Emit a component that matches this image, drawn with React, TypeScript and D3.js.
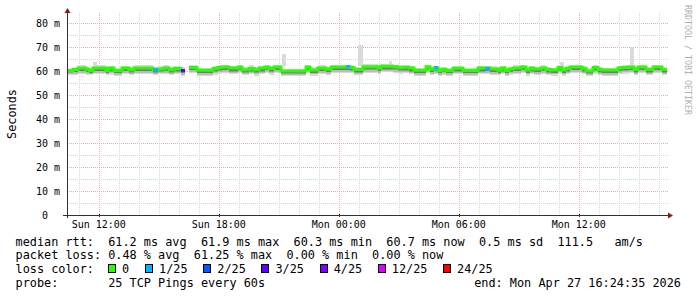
import React from "react";
import * as d3 from "d3";

// ---- data ----
const START = Date.UTC(2026, 3, 26, 10, 24, 35);
const END = Date.UTC(2026, 3, 27, 16, 24, 35);

// median runs: start minute (from START), median rtt (ms), lost pings (of 25)
const runStartMin = [
  0, 18, 33, 57, 66, 78, 117, 126, 141, 165, 186, 201, 258, 273, 291, 306, 321, 342, 354, 366,
  390, 438, 453, 465, 486, 513, 525, 546, 561, 576, 594, 606, 621, 642, 717, 729, 753, 777, 792, 837,
  849, 861, 888, 933, 942, 978, 993, 1008, 1026, 1041, 1077, 1089, 1101, 1113, 1125, 1137, 1158, 1188, 1233, 1254,
  1269, 1293, 1302, 1314, 1326, 1338, 1362, 1377, 1389, 1401, 1422, 1437, 1452, 1473, 1485, 1497, 1509, 1545, 1557, 1578,
  1593, 1605, 1653, 1665, 1686, 1701, 1713, 1737, 1758, 1785,
];
const runMedian: (number | null)[] = [
  60.2, 60.6, 61.3, 60.7, 60.2, 61.3, 60.2, 61.2, 60.2, 61.3, 60.5, 61.3, 60.5, 60.8, 61.2, 60.5, 61.0, 60.3, null, 61.5,
  60.3, 61.0, 61.5, 61.7, 61.2, 61.7, 60.5, 61.0, 60.5, 61.2, 61.7, 61.0, 61.7, 60.0, 61.7, 60.4, 61.2, 60.7, 61.7, 61.7,
  61.5, 60.6, 61.8, 61.3, 62.0, 61.8, 61.4, 61.6, 61.2, 60.3, 61.8, 60.7, 61.3, 60.2, 60.7, 60.2, 61.1, 60.2, 61.2, 61.2,
  60.8, 60.3, 61.2, 60.2, 60.8, 61.3, 61.7, 60.4, 61.2, 60.8, 61.2, 60.6, 60.4, 61.5, 60.4, 61.0, 61.7, 61.0, 60.0, 61.5,
  60.6, 60.4, 61.2, 61.5, 61.7, 60.6, 61.7, 60.6, 61.7, 60.6,
];
const runLoss = [
  0, 0, 0, 0, 0, 0, 0, 0, 0, 0, 0, 0, 1, 0, 0, 0, 0, 3, 0, 0,
  0, 0, 0, 0, 0, 0, 0, 0, 0, 0, 0, 0, 0, 0, 0, 0, 0, 0, 0, 1,
  0, 0, 0, 0, 0, 0, 0, 0, 0, 0, 0, 0, 1, 0, 0, 0, 0, 0, 0, 1,
  0, 0, 0, 0, 0, 0, 0, 0, 0, 0, 0, 0, 0, 0, 0, 0, 0, 0, 0, 0,
  0, 0, 0, 0, 0, 0, 0, 0, 0, 0,
];
const runSmokeLow: (number | null)[] = [
  58.4, 58.5, 58.8, 58.3, 58.2, 58.6, 58.3, 58.5, 58.1, 58.7, 58.4, 58.8, 58.3, 58.6, 58.7, 58.3, 58.6, 58.1, null, 59.2,
  58.0, 58.5, 58.9, 59.1, 58.6, 59.2, 58.2, 58.6, 58.1, 58.6, 59.1, 58.5, 59.0, 57.9, 59.2, 58.1, 58.7, 58.4, 59.1, 59.1,
  59.0, 58.3, 59.2, 58.8, 59.4, 59.2, 58.9, 59.0, 58.6, 58.1, 59.2, 58.4, 58.7, 58.1, 58.4, 58.0, 58.6, 58.1, 58.6, 58.7,
  58.4, 58.2, 58.6, 58.0, 58.5, 58.7, 59.1, 58.1, 58.6, 58.4, 58.7, 58.3, 58.1, 58.9, 58.1, 58.6, 59.1, 58.6, 57.9, 58.9,
  58.3, 58.0, 58.7, 58.9, 59.1, 58.3, 59.1, 58.3, 59.2, 58.3,
];
const runSmokeHigh: (number | null)[] = [
  61.0, 61.4, 62.3, 61.6, 61.2, 62.4, 61.5, 62.2, 61.3, 62.2, 61.6, 62.4, 61.8, 61.9, 62.3, 61.6, 62.0, 61.6, null, 62.4,
  61.2, 62.0, 62.4, 62.6, 62.2, 62.7, 61.5, 62.6, 61.5, 62.1, 62.6, 62.0, 62.5, 61.0, 62.6, 61.5, 62.3, 61.8, 62.7, 62.6,
  62.4, 61.7, 62.8, 62.2, 62.9, 62.7, 62.3, 62.5, 62.2, 61.3, 62.7, 61.6, 62.2, 61.2, 61.6, 61.3, 62.1, 61.3, 62.2, 62.1,
  61.9, 61.3, 62.2, 61.2, 61.8, 62.3, 62.6, 61.4, 62.2, 61.8, 62.3, 61.6, 61.4, 62.4, 61.5, 62.0, 62.6, 62.0, 61.1, 62.4,
  61.6, 61.4, 62.2, 62.5, 62.6, 61.7, 62.6, 61.6, 62.7, 61.6,
];
// single slow pings (smoke outliers)
const outlierStartMin = [78, 645, 873, 966, 1479, 1689];
const outlierEndMin = [90, 657, 888, 975, 1491, 1701];
const outlierMax = [63.7, 67.0, 70.8, 64.0, 63.7, 70.0];

const yTicks = [0, 10, 20, 30, 40, 50, 60, 70, 80];
const lossThresholds = [0, 1, 2, 3, 4, 12, 24];
const lossLabels = ["0", "1/25", "2/25", "3/25", "4/25", "12/25", "24/25"];
const lossColors = ["#26ff00", "#00b8ff", "#0059ff", "#5e00ff", "#7e00ff", "#dd00ff", "#ff0000"];

const legendLine1 = "median rtt:  61.2 ms avg  61.9 ms max  60.3 ms min  60.7 ms now  0.5 ms sd  111.5   am/s";
const legendLine2 = "packet loss: 0.48 % avg  61.25 % max  0.00 % min  0.00 % now";
const legendLine3 = "loss color:";
const legendLine4 = "probe:       25 TCP Pings every 60s";
const endText = "end: Mon Apr 27 16:24:35 2026";

// ---- layout ----
const W = 697;
const H = 297;
const X0 = 67;
const X1 = 667;
const Y0 = 215;
const Y1 = 15;
const MONO = "'DejaVu Sans Mono', monospace";
const FS = 11.85;
const CW = 7.05;

const nb = (s: string) => s.replace(/ /g, "\u00a0");

function lossColor(l: number) {
  let c = lossColors[0];
  lossThresholds.forEach((t, i) => {
    if (l >= t) c = lossColors[i];
  });
  return c;
}

export default function App() {
  const x = d3.scaleUtc().domain([START, END]).range([X0, X1]);
  const y = d3.scaleLinear().domain([0, 83.333]).range([Y0, Y1]);
  const tAt = (m: number) => START + m * 60000;

  const runs = runStartMin.map((s, i) => ({
    s,
    e: i < runStartMin.length - 1 ? runStartMin[i + 1] : 1800,
    med: runMedian[i],
    lo: runSmokeLow[i],
    hi: runSmokeHigh[i],
    loss: runLoss[i],
  }));

  const hours = d3.utcHour.range(new Date(START), new Date(END));
  const minorY = d3.range(5, 84, 5);

  const pts: [number, number | null][] = runs.map((r) => [r.s, r.med]);
  pts.push([1800, runs[runs.length - 1].med]);
  const medLine = d3
    .line<[number, number | null]>()
    .defined((d) => d[1] !== null)
    .x((d) => x(tAt(d[0])))
    .y((d) => y(d[1] as number))
    .curve(d3.curveStepAfter);

  const band = (key: string, r: any, a: number, b: number, fill: string) => {
    const xa = Math.round(x(tAt(r.s)));
    const xb = Math.round(x(tAt(r.e)));
    const ya = y(a);
    const yb = y(b);
    return (
      <rect key={key} x={xa} width={xb - xa} y={Math.min(ya, yb)} height={Math.abs(yb - ya)} fill={fill} />
    );
  };

  // legend boxes layout
  let lx = 108;
  const legendItems = lossLabels.map((lab, i) => {
    const item = { bx: lx, tx: lx + 14, lab, col: lossColors[i] };
    lx = lx + 14 + lab.length * CW + 16;
    return item;
  });

  const fmtX = d3.utcFormat("%a %H:%M");
  const majorHours = hours.filter((h) => h.getUTCHours() % 6 === 0);

  return (
    <svg
      width={W}
      height={H}
      style={{ position: "fixed", left: 0, top: 0, background: "#fff" }}
      fontFamily={MONO}
    >
      <rect x={0} y={0} width={W} height={H} fill="#fff" />
      {/* grid */}
      <g shapeRendering="crispEdges">
        {minorY.map((v) => (
          <line
            key={"gy" + v}
            x1={X0}
            x2={X1 + 1}
            y1={Math.round(y(v)) + 0.5}
            y2={Math.round(y(v)) + 0.5}
            stroke={v % 10 === 0 ? "#e3b0b0" : "#d6d6d6"}
            strokeDasharray="1,1"
          />
        ))}
        {hours.map((h) => {
          const xx = Math.round(x(h)) + 0.5;
          const major = h.getUTCHours() % 6 === 0;
          return (
            <line
              key={"gx" + +h}
              x1={xx}
              x2={xx}
              y1={13}
              y2={Y0}
              stroke={major ? "#e3b0b0" : "#d6d6d6"}
              strokeDasharray="1,1"
            />
          );
        })}
      </g>

      {/* smoke */}
      <g shapeRendering="crispEdges">
        {runs.map((r, i) => {
          if (r.med === null || r.lo === null || r.hi === null) return null;
          const m = r.med as number;
          const lo = r.lo as number;
          const hi = r.hi as number;
          return (
            <g key={"s" + i}>
              {band("a", r, lo, hi, "#d8d8d8")}
              {band("b", r, lo + 0.2 * (m - lo), m + 0.45 * (hi - m), "#bcbcbc")}
              {band("c", r, lo + 0.45 * (m - lo), m + 0.15 * (hi - m), "#999999")}
              {band("d", r, m - 0.45 * (m - lo), m, "#777777")}
            </g>
          );
        })}
        {outlierStartMin.map((s, i) => {
          const xa = Math.round(x(tAt(s)));
          const xb = Math.round(x(tAt(outlierEndMin[i])));
          return (
            <rect
              key={"o" + i}
              x={xa}
              width={xb - xa}
              y={y(outlierMax[i])}
              height={y(62) - y(outlierMax[i])}
              fill="#dadada"
            />
          );
        })}
      </g>

      {/* median */}
      <path d={medLine(pts) || ""} fill="none" stroke={lossColors[0]} strokeWidth={3} />
      <g shapeRendering="crispEdges">
        {runs.map((r, i) =>
          r.med !== null && r.loss > 0 ? (
            <rect
              key={"l" + i}
              x={x(tAt(r.s))}
              width={x(tAt(r.e)) - x(tAt(r.s))}
              y={y(r.med as number) - 1.5}
              height={3}
              fill={lossColor(r.loss)}
            />
          ) : null
        )}
      </g>

      {/* axes */}
      <g shapeRendering="crispEdges">
        <line x1={63} x2={669} y1={Y0 + 0.5} y2={Y0 + 0.5} stroke="#303030" />
        <line x1={X0 + 0.5} x2={X0 + 0.5} y1={218} y2={11} stroke="#303030" />
        {majorHours.map((h) => (
          <line
            key={"t" + +h}
            x1={Math.round(x(h)) + 0.5}
            x2={Math.round(x(h)) + 0.5}
            y1={Y0 - 1}
            y2={Y0 + 2}
            stroke="#303030"
          />
        ))}
      </g>
      <path d={`M${668},${Y0 - 2.5} L${673},${Y0 + 0.5} L${668},${Y0 + 3.5} Z`} fill="#8b1a1a" />
      <path d={`M${X0 - 2.5},13 L${X0 + 0.5},8 L${X0 + 3.5},13 Z`} fill="#8b1a1a" />

      {/* y tick labels */}
      {yTicks.map((v) => (
        <text key={"yl" + v} x={v === 0 ? 48 : 60} y={y(v) + 4} fontSize={10} textAnchor="end" fill="#000">
          {nb(v === 0 ? "0" : `${v} m`)}
        </text>
      ))}
      {/* x tick labels */}
      {majorHours.map((h) => (
        <text key={"xl" + +h} x={x(h)} y={227.5} fontSize={10} textAnchor="middle" fill="#000">
          {nb(fmtX(h))}
        </text>
      ))}

      {/* axis title */}
      <text transform={`translate(16,114) rotate(-90)`} fontSize={FS} textAnchor="middle" fill="#000">
        Seconds
      </text>

      {/* watermark */}
      <text transform={`translate(685,5) rotate(90)`} fontSize={8.3} fill="#b0b0b0">
        {nb("RRDTOOL / TOBI OETIKER")}
      </text>

      {/* legend */}
      <g fontSize={FS} fill="#000">
        <text x={15.5} y={245.5}>{nb(legendLine1)}</text>
        <text x={15.5} y={259.2}>{nb(legendLine2)}</text>
        <text x={15.5} y={272.9}>{nb(legendLine3)}</text>
        <text x={15.5} y={286.6}>{nb(legendLine4)}</text>
        <text x={681} y={286.6} textAnchor="end">{nb(endText)}</text>
        {legendItems.map((it) => (
          <g key={"lg" + it.lab}>
            <rect
              x={Math.round(it.bx) + 0.5}
              y={264.5}
              width={7}
              height={8}
              fill={it.col}
              stroke="#000"
              shapeRendering="crispEdges"
            />
            <text x={it.tx} y={272.9}>{it.lab}</text>
          </g>
        ))}
      </g>
    </svg>
  );
}
